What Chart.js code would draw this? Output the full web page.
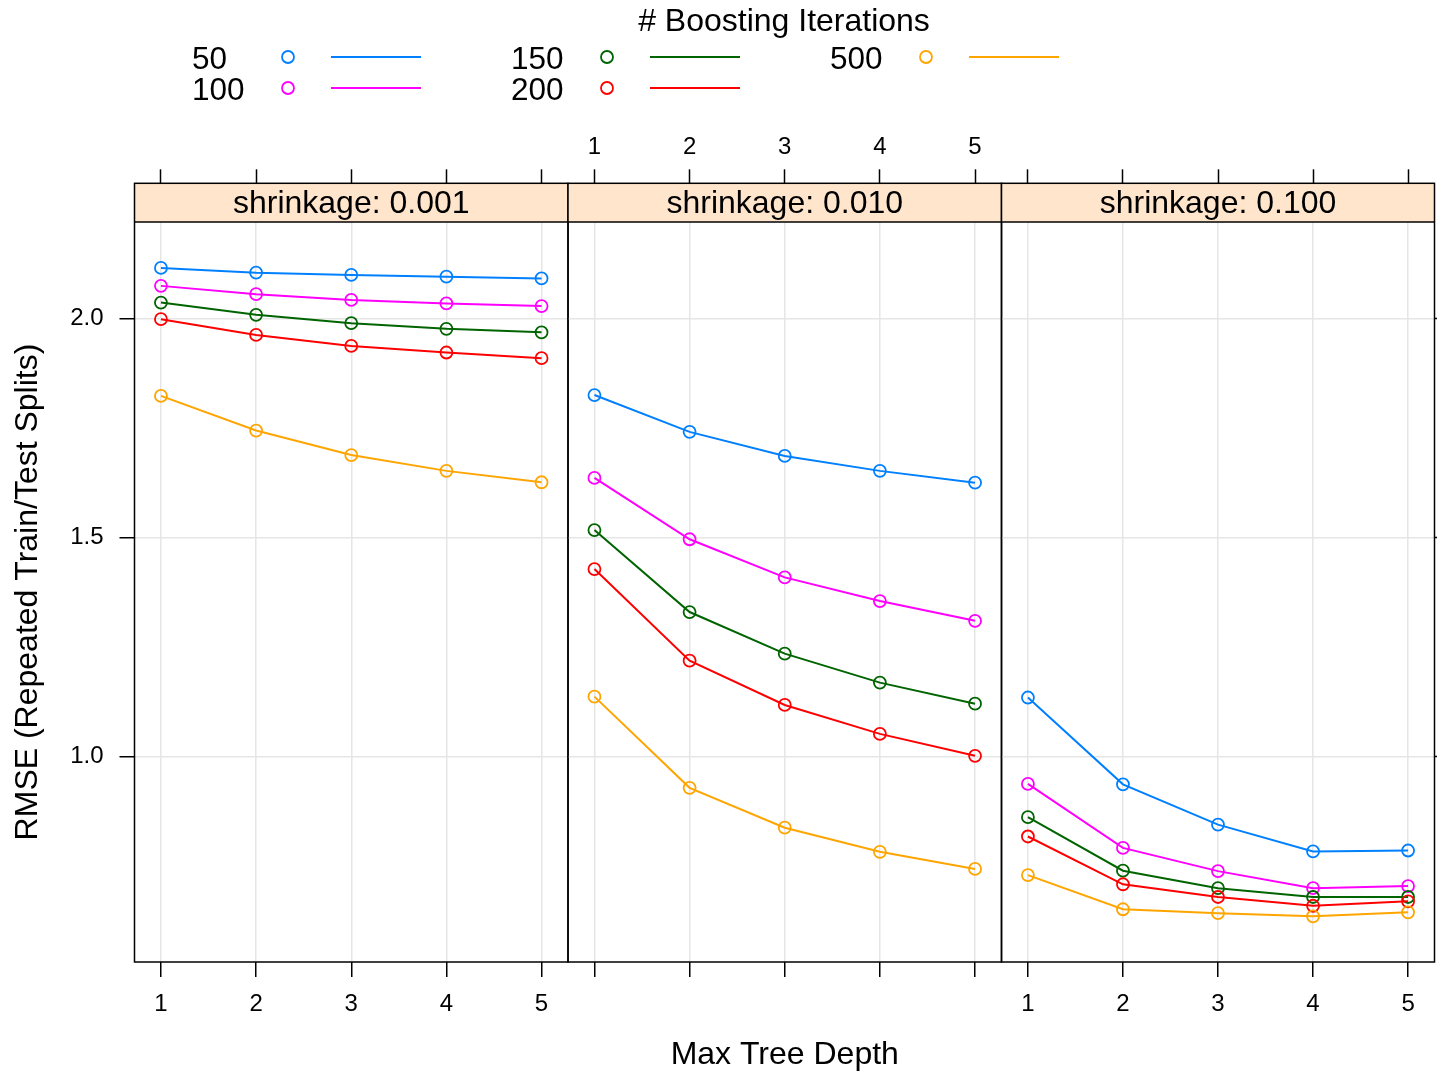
<!DOCTYPE html>
<html>
<head>
<meta charset="utf-8">
<title>RMSE by Max Tree Depth</title>
<script src="https://cdn.jsdelivr.net/npm/chart.js@4.4.1/dist/chart.umd.min.js"></script>
<style>
  html, body { margin: 0; padding: 0; background: #ffffff; }
  #wrap { position: relative; width: 1437px; height: 1074px; overflow: hidden; background: #ffffff; }
  #wrap canvas { position: absolute; left: 0; top: 0; }
  #key { position: absolute; left: 0; top: 0; }
  #key text { font-family: "Liberation Sans", Arial, sans-serif; fill: #000000; }
</style>
</head>
<body>
<div id="wrap">
  <canvas id="panel0" width="1437" height="1074"></canvas>
  <canvas id="panel1" width="1437" height="1074"></canvas>
  <canvas id="panel2" width="1437" height="1074"></canvas>
  <svg id="key" width="1437" height="112" xmlns="http://www.w3.org/2000/svg"></svg>
</div>
<script>
// ---- data ----
const depths = [1, 2, 3, 4, 5];
const iterations = ['50', '100', '150', '200', '500'];
const shrinkLabels = ['shrinkage: 0.001', 'shrinkage: 0.010', 'shrinkage: 0.100'];
const rmseTicks = [1.0, 1.5, 2.0];

// RMSE per boosting iteration count (rows) and tree depth (columns)
const rmseShrink001 = [
  [2.115, 2.104, 2.099, 2.095, 2.091],
  [2.074, 2.055, 2.042, 2.034, 2.028],
  [2.036, 2.008, 1.989, 1.976, 1.968],
  [1.998, 1.962, 1.937, 1.922, 1.909],
  [1.823, 1.744, 1.688, 1.652, 1.626]
];
const rmseShrink010 = [
  [1.825, 1.741, 1.686, 1.652, 1.625],
  [1.636, 1.496, 1.409, 1.355, 1.310],
  [1.517, 1.330, 1.235, 1.169, 1.121],
  [1.428, 1.219, 1.118, 1.052, 1.002],
  [1.137, 0.929, 0.838, 0.783, 0.744]
];
const rmseShrink100 = [
  [1.135, 0.937, 0.845, 0.784, 0.786],
  [0.938, 0.792, 0.739, 0.700, 0.705],
  [0.862, 0.740, 0.700, 0.680, 0.680],
  [0.818, 0.709, 0.680, 0.660, 0.670],
  [0.730, 0.652, 0.643, 0.636, 0.645]
];

// ---- styling ----
const seriesColors = ['#0080ff', '#ff00ff', '#006400', '#ff0000', '#ffa500'];
const stripFill = '#ffe5cc';
const gridColor = '#e6e6e6';
const fontFamily = '"Liberation Sans", Arial, sans-serif';

Chart.defaults.font.family = fontFamily;
Chart.defaults.color = '#000000';

// page geometry
const W = 1437, H = 1074;
const panelEdges = [134.5, 568, 1001.5, 1434.5];
const stripTop = 183.3;
const plotBottom = 962;
const xMin = 0.722, xMax = 5.278;
const yMin = 0.5317, yMax = 2.2197;

// strip background and panel frames
const panelFrame = {
  id: 'panelFrame',
  beforeDraw(chart) {
    const a = chart.chartArea, t = chart.titleBlock, ctx = chart.ctx;
    ctx.save();
    ctx.fillStyle = stripFill;
    ctx.fillRect(a.left, t.top, a.right - a.left, a.top - t.top);
    ctx.restore();
  },
  afterDraw(chart) {
    const a = chart.chartArea, t = chart.titleBlock, ctx = chart.ctx;
    ctx.save();
    ctx.strokeStyle = '#000000';
    ctx.lineWidth = 1.5;
    ctx.strokeRect(a.left, t.top, a.right - a.left, a.bottom - t.top);
    ctx.beginPath();
    ctx.moveTo(a.left, a.top);
    ctx.lineTo(a.right, a.top);
    ctx.stroke();
    ctx.restore();
  }
};

function depthTicks(scale) { scale.ticks = depths.map(v => ({ value: v })); }
function rmseTickList(scale) { scale.ticks = rmseTicks.map(v => ({ value: v })); }

function buildPanel(idx, values) {
  const left = panelEdges[idx], right = panelEdges[idx + 1];
  const first = idx === 0, middle = idx === 1, last = idx === 2;

  const datasets = iterations.map((it, i) => ({
    label: it,
    data: depths.map((d, j) => ({ x: d, y: values[i][j] })),
    borderColor: seriesColors[i],
    backgroundColor: 'rgba(0,0,0,0)',
    pointBorderColor: seriesColors[i],
    pointBackgroundColor: 'rgba(0,0,0,0)',
    borderWidth: 2,
    pointRadius: 6,
    pointHoverRadius: 6,
    pointBorderWidth: 1.8,
    tension: 0,
    order: iterations.length - i
  }));

  const scales = {
    x: {
      type: 'linear', axis: 'x', position: 'bottom', min: xMin, max: xMax,
      afterBuildTicks: depthTicks,
      afterFit: s => { s.height = H - plotBottom; },
      grid: { color: gridColor, lineWidth: 1.5, tickColor: '#000000', tickWidth: 1.5, tickLength: 15, drawTicks: true },
      border: { display: false },
      ticks: { display: !middle, font: { size: 24 }, padding: 13, maxRotation: 0, autoSkip: false },
      title: { display: middle, text: 'Max Tree Depth', font: { size: 32, lineHeight: 1.1 }, padding: { top: 0, bottom: 1 } }
    },
    xTop: {
      type: 'linear', axis: 'x', position: 'top', weight: 3000, min: xMin, max: xMax,
      afterBuildTicks: depthTicks,
      afterFit: s => { s.height = stripTop; },
      grid: { drawOnChartArea: false, tickColor: '#000000', tickWidth: 1.5, tickLength: 14, drawTicks: true },
      border: { display: false },
      ticks: { display: middle, font: { size: 24 }, padding: 8, maxRotation: 0, autoSkip: false }
    },
    y: {
      type: 'linear', axis: 'y', position: 'left', min: yMin, max: yMax,
      afterBuildTicks: rmseTickList,
      afterFit: s => { s.width = first ? left : 0; },
      grid: { color: gridColor, lineWidth: 1.5, tickColor: '#000000', tickWidth: 1.5, tickLength: 15, drawTicks: first },
      border: { display: false },
      ticks: { display: first, font: { size: 24 }, padding: 16, autoSkip: false, callback: v => Number(v).toFixed(1) },
      title: { display: first, text: 'RMSE (Repeated Train/Test Splits)', font: { size: 32 }, padding: { top: 9, bottom: 0 } }
    }
  };
  if (last) {
    scales.yRight = {
      type: 'linear', axis: 'y', position: 'right', min: yMin, max: yMax,
      afterBuildTicks: rmseTickList,
      afterFit: s => { s.width = W - right; },
      grid: { drawOnChartArea: false, tickColor: '#000000', tickWidth: 1.5, tickLength: 15, drawTicks: true },
      border: { display: false },
      ticks: { display: false }
    };
  }

  return new Chart(document.getElementById('panel' + idx), {
    type: 'line',
    data: { datasets },
    options: {
      responsive: false,
      animation: false,
      devicePixelRatio: 1,
      events: [],
      layout: {
        autoPadding: false,
        padding: { left: first ? 0 : left, right: last ? 0 : W - right, top: 0, bottom: 0 }
      },
      scales,
      plugins: {
        legend: { display: false },
        tooltip: { enabled: false },
        title: {
          display: true,
          text: shrinkLabels[idx],
          fullSize: false,
          color: '#000000',
          font: { size: 32, weight: 'normal', lineHeight: 1.0 },
          padding: { top: 4.7, bottom: 2 }
        }
      }
    },
    plugins: [panelFrame]
  });
}

buildPanel(0, rmseShrink001);
buildPanel(1, rmseShrink010);
buildPanel(2, rmseShrink100);

// ---- key: "# Boosting Iterations" ----
(function drawKey() {
  const svg = document.getElementById('key');
  const NS = 'http://www.w3.org/2000/svg';
  const colX = [192, 511, 830];
  const rowY = [57, 88];
  function el(name, attrs, text) {
    const e = document.createElementNS(NS, name);
    for (const k in attrs) e.setAttribute(k, attrs[k]);
    if (text !== undefined) e.textContent = text;
    svg.appendChild(e);
    return e;
  }
  el('text', { x: 784, y: 20, 'font-size': 32, 'text-anchor': 'middle', 'dominant-baseline': 'central' }, '# Boosting Iterations');
  iterations.forEach((it, i) => {
    const x = colX[Math.floor(i / 2)], y = rowY[i % 2];
    el('text', { x: x, y: y + 1, 'font-size': 31.5, 'dominant-baseline': 'central' }, it);
    el('circle', { cx: x + 96, cy: y, r: 6, fill: 'none', stroke: seriesColors[i], 'stroke-width': 1.8 });
    el('line', { x1: x + 139, y1: y, x2: x + 229, y2: y, stroke: seriesColors[i], 'stroke-width': 2 });
  });
})();
</script>
</body>
</html>
